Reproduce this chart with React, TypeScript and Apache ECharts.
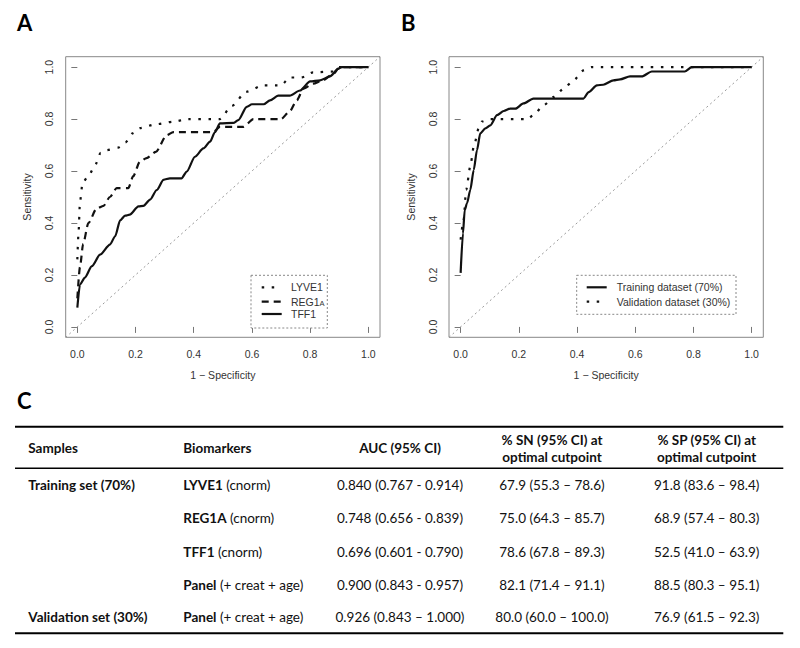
import React, { useEffect, useRef } from 'react';
import * as echarts from 'echarts';

// ---------- data ----------
const tickValues = [0, 0.2, 0.4, 0.6, 0.8, 1.0];
const diagonal = [[-0.04, -0.04], [1.04, 1.04]];

const lyve1 = [[0, 0.26], [0.004, 0.36], [0.009, 0.48], [0.018, 0.555], [0.04, 0.585], [0.06, 0.62], [0.08, 0.67], [0.1, 0.68], [0.14, 0.69], [0.165, 0.71], [0.19, 0.745], [0.215, 0.765], [0.27, 0.78], [0.33, 0.79], [0.38, 0.8], [0.49, 0.8], [0.53, 0.85], [0.58, 0.905], [0.64, 0.93], [0.7, 0.93], [0.73, 0.96], [0.77, 0.96], [0.81, 0.98], [0.88, 0.983], [0.9, 1], [1, 1]];
const reg1a = [[0, 0.11], [0.009, 0.23], [0.02, 0.32], [0.038, 0.4], [0.066, 0.455], [0.09, 0.466], [0.112, 0.5], [0.135, 0.534], [0.175, 0.534], [0.192, 0.58], [0.215, 0.636], [0.238, 0.65], [0.27, 0.674], [0.307, 0.738], [0.33, 0.75], [0.467, 0.75], [0.49, 0.77], [0.57, 0.77], [0.605, 0.8], [0.7, 0.8], [0.73, 0.83], [0.754, 0.872], [0.777, 0.917], [0.81, 0.936], [0.845, 0.95], [0.88, 0.974], [0.897, 0.994], [0.908, 1], [1, 1]];
const tff1 = [[0, 0.074], [0.009, 0.163], [0.026, 0.19], [0.05, 0.234], [0.078, 0.278], [0.112, 0.317], [0.13, 0.349], [0.147, 0.41], [0.164, 0.428], [0.18, 0.432], [0.21, 0.464], [0.227, 0.466], [0.25, 0.49], [0.273, 0.527], [0.296, 0.566], [0.318, 0.572], [0.358, 0.572], [0.376, 0.598], [0.404, 0.655], [0.433, 0.687], [0.456, 0.713], [0.473, 0.75], [0.49, 0.783], [0.536, 0.785], [0.553, 0.796], [0.582, 0.847], [0.6, 0.857], [0.64, 0.857], [0.662, 0.872], [0.69, 0.89], [0.73, 0.89], [0.765, 0.91], [0.8, 0.945], [0.834, 0.949], [0.868, 0.964], [0.897, 0.994], [0.908, 1], [1, 1]];

const training = [[0, 0.208], [0.008, 0.36], [0.014, 0.45], [0.022, 0.476], [0.033, 0.527], [0.045, 0.604], [0.056, 0.68], [0.0675, 0.745], [0.085, 0.764], [0.102, 0.776], [0.125, 0.815], [0.148, 0.831], [0.17, 0.84], [0.188, 0.84], [0.216, 0.86], [0.25, 0.879], [0.422, 0.879], [0.44, 0.904], [0.468, 0.93], [0.49, 0.932], [0.525, 0.949], [0.548, 0.953], [0.582, 0.964], [0.622, 0.964], [0.657, 0.983], [0.77, 0.983], [0.794, 1], [1, 1]];
const validation = [[0, 0.336], [0.01, 0.41], [0.019, 0.527], [0.033, 0.617], [0.045, 0.693], [0.062, 0.764], [0.073, 0.79], [0.1, 0.8], [0.23, 0.8], [0.25, 0.815], [0.285, 0.853], [0.32, 0.885], [0.354, 0.917], [0.388, 0.949], [0.422, 0.987], [0.45, 1], [1, 1]];

const legendA = ['LYVE1', 'REG1A', 'TFF1'];
const legendB = ['Training dataset (70%)', 'Validation dataset (30%)'];

const tableHeaders = ['Samples', 'Biomarkers', 'AUC (95% CI)', '% SN (95% CI) at\noptimal cutpoint', '% SP (95% CI) at\noptimal cutpoint'];
const tableSamples = ['Training set (70%)', '', '', '', 'Validation set (30%)'];
const tableMarkers = ['LYVE1', 'REG1A', 'TFF1', 'Panel', 'Panel'];
const tableMarkerNotes = ['(cnorm)', '(cnorm)', '(cnorm)', '(+ creat + age)', '(+ creat + age)'];
const tableAUC = ['0.840 (0.767 - 0.914)', '0.748 (0.656 - 0.839)', '0.696 (0.601 - 0.790)', '0.900 (0.843 - 0.957)', '0.926 (0.843 – 1.000)'];
const tableSN = ['67.9 (55.3 – 78.6)', '75.0 (64.3 – 85.7)', '78.6 (67.8 – 89.3)', '82.1 (71.4 – 91.1)', '80.0 (60.0 – 100.0)'];
const tableSP = ['91.8 (83.6 – 98.4)', '68.9 (57.4 – 80.3)', '52.5 (41.0 – 63.9)', '88.5 (80.3 – 95.1)', '76.9 (61.5 – 92.3)'];

// ---------- styling ----------
const RF = 'Liberation Sans, Arial, sans-serif';
const TF = 'Lato, Calibri, sans-serif';
const AX = '#333';
const dotted = [2.5, 7.5];
const dashed = [7, 5];

const gridA = { left: 65.7, top: 56.7, width: 314.3, height: 280.6 };
const gridB = { left: 449, top: 56.7, width: 314.3, height: 280.6 };

function xAxis(gridIndex: number) {
  return {
    type: 'value', gridIndex, min: -0.04, max: 1.04,
    name: '1 − Specificity', nameLocation: 'middle', nameGap: 32,
    nameTextStyle: { fontSize: 10.5, color: AX, fontFamily: RF },
    axisLine: { show: false },
    axisTick: { show: true, customValues: tickValues, length: 6, lineStyle: { color: '#777' } },
    axisLabel: { customValues: tickValues, formatter: (v: number) => v.toFixed(1), margin: 11, fontSize: 10.5, color: AX, fontFamily: RF },
    splitLine: { show: false },
  };
}
function yAxis(gridIndex: number) {
  return {
    type: 'value', gridIndex, min: -0.04, max: 1.04,
    name: 'Sensitivity', nameLocation: 'middle', nameGap: 33,
    nameTextStyle: { fontSize: 10.5, color: AX, fontFamily: RF },
    axisLine: { show: false },
    axisTick: { show: true, customValues: tickValues, length: 6, lineStyle: { color: '#777' } },
    axisLabel: { customValues: tickValues, formatter: (v: number) => v.toFixed(1), rotate: 90, margin: 11, fontSize: 10.5, color: AX, fontFamily: RF },
    splitLine: { show: false },
  };
}
function line(data: number[][], xi: number, type: any, width = 2, color = '#111', z = 3) {
  return {
    type: 'line', data, xAxisIndex: xi, yAxisIndex: xi, showSymbol: false, symbol: 'none',
    smooth: 0.25, smoothMonotone: 'x', z,
    lineStyle: { color, width, type }, silent: true,
  };
}

function legendGraphics(labels: any[], styles: any[], box: any, lineX0: number, lineX1: number, textX: number, ys: number[]) {
  const els: any[] = [
    { type: 'rect', shape: { x: box.x, y: box.y, width: box.w, height: box.h }, style: { fill: '#fff', stroke: '#888', lineWidth: 1, lineDash: [2, 2] }, z: 10 },
  ];
  labels.forEach((lab, i) => {
    els.push({ type: 'line', shape: { x1: lineX0, y1: ys[i], x2: lineX1, y2: ys[i] }, style: { stroke: '#111', lineWidth: styles[i].w, lineDash: styles[i].dash }, z: 11 });
    els.push({ type: 'text', x: textX, y: ys[i], style: { text: lab, rich: { a: { fontSize: 10.5, fontFamily: RF, fill: AX }, s: { fontSize: 7.5, fontFamily: RF, fill: AX, verticalAlign: 'bottom' } }, fontSize: 10.5, fontFamily: RF, fill: AX, textAlign: 'left', textVerticalAlign: 'middle' }, z: 11 });
  });
  return els;
}

function tableGraphics() {
  const els: any[] = [];
  const x0 = 15, x1 = 783.3;
  els.push({ type: 'line', shape: { x1: x0, y1: 426.7, x2: x1, y2: 426.7 }, style: { stroke: '#000', lineWidth: 2 } });
  els.push({ type: 'line', shape: { x1: x0, y1: 468.3, x2: x1, y2: 468.3 }, style: { stroke: '#000', lineWidth: 1.5 } });
  els.push({ type: 'line', shape: { x1: x0, y1: 633.3, x2: x1, y2: 633.3 }, style: { stroke: '#000', lineWidth: 2 } });
  const colX = [28.3, 183.3, 400, 552, 706.7];
  const colAlign = ['left', 'left', 'center', 'center', 'center'];
  const fs = 13.5;
  const headerY = [448.3, 448.3, 448.3, 448.3, 448.3];
  tableHeaders.forEach((h, i) => {
    els.push({ type: 'text', x: colX[i], y: headerY[i], style: { text: h, fontSize: fs, fontWeight: 'bold', fontFamily: TF, fill: '#111', textAlign: colAlign[i], textVerticalAlign: 'middle', lineHeight: 16.7 } });
  });
  const rowY = [485, 518.3, 551.7, 584.5, 617.3];
  rowY.forEach((y, r) => {
    if (tableSamples[r]) {
      els.push({ type: 'text', x: colX[0], y, style: { text: tableSamples[r], fontSize: fs, fontWeight: 'bold', fontFamily: TF, fill: '#111', textAlign: 'left', textVerticalAlign: 'middle' } });
    }
    els.push({ type: 'text', x: colX[1], y, style: { text: '{b|' + tableMarkers[r] + '} {n|' + tableMarkerNotes[r] + '}', rich: { b: { fontSize: fs, fontWeight: 'bold', fontFamily: TF, fill: '#111' }, n: { fontSize: fs, fontFamily: TF, fill: '#111' } }, fontSize: fs, fontFamily: TF, fill: '#111', textAlign: 'left', textVerticalAlign: 'middle' } });
    [tableAUC, tableSN, tableSP].forEach((col, c) => {
      els.push({ type: 'text', x: colX[c + 2], y, style: { text: col[r], fontSize: fs, fontFamily: TF, fill: '#111', textAlign: 'center', textVerticalAlign: 'middle' } });
    });
  });
  return els;
}

export default function App() {
  const ref = useRef<HTMLDivElement>(null);
  useEffect(() => {
    document.body.style.margin = '0';
    if (!ref.current) return;
    const chart = echarts.init(ref.current, null, { renderer: 'svg' });
    const letterStyle = { fontSize: 22, fontWeight: 'bold', fontFamily: TF, fill: '#000', textAlign: 'left', textVerticalAlign: 'middle' };
    chart.setOption({
      animation: false,
      backgroundColor: '#fff',
      grid: [
        { ...gridA, show: true, borderColor: '#888', borderWidth: 1, backgroundColor: 'transparent' },
        { ...gridB, show: true, borderColor: '#888', borderWidth: 1, backgroundColor: 'transparent' },
      ],
      xAxis: [xAxis(0), xAxis(1)],
      yAxis: [yAxis(0), yAxis(1)],
      series: [
        line(diagonal, 0, [2, 3], 1, '#999', 1),
        line(lyve1, 0, dotted, 2.2),
        line(reg1a, 0, dashed, 2.2),
        line(tff1, 0, 'solid', 2.2),
        line(diagonal, 1, [2, 3], 1, '#999', 1),
        line(training, 1, 'solid', 2.2),
        line(validation, 1, dotted, 2.2),
      ],
      graphic: [
        { type: 'text', x: 17, y: 22, style: { text: 'A', ...letterStyle } },
        { type: 'text', x: 401, y: 22, style: { text: 'B', ...letterStyle } },
        { type: 'text', x: 17, y: 400, style: { text: 'C', ...letterStyle } },
        ...legendGraphics(
          ['{a|' + legendA[0] + '}', '{a|REG1}{s|A}', '{a|' + legendA[2] + '}'],
          [{ w: 2.2, dash: dotted }, { w: 2.2, dash: dashed }, { w: 2.2, dash: null }],
          { x: 251, y: 275.3, w: 76.3, h: 52.7 }, 261.7, 281.7, 291, [287.3, 301.7, 314]
        ),
        ...legendGraphics(
          legendB.map((s) => '{a|' + s + '}'),
          [{ w: 2.2, dash: null }, { w: 2.2, dash: dotted }],
          { x: 576.7, y: 275.3, w: 159.3, h: 39 }, 586.7, 606.7, 616.7, [287.3, 301.7]
        ),
        ...tableGraphics(),
      ],
    });
    return () => chart.dispose();
  }, []);
  return <div ref={ref} style={{ width: 800, height: 648 }} />;
}
